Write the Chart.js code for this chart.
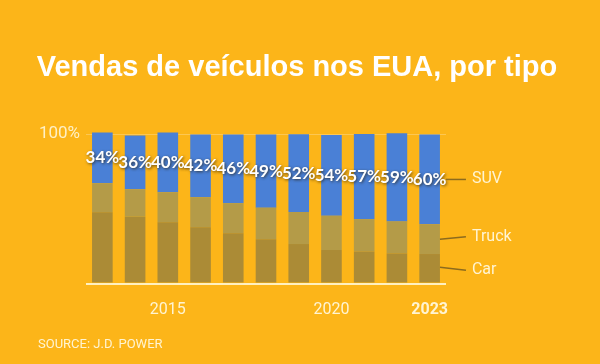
<!DOCTYPE html>
<html>
<head>
<meta charset="utf-8">
<script src="https://cdn.jsdelivr.net/npm/chart.js@4"></script>
<style>
  html, body { margin: 0; padding: 0; background: #FCB519; }
  #wrap { width: 600px; height: 364px; position: relative; }
</style>
</head>
<body>
<div id="wrap"><canvas id="c" width="600" height="364"></canvas></div>
<script>
const years = ['2013','2014','2015','2016','2017','2018','2019','2020','2021','2022','2023'];
const shownYears = ['2015','2020','2023'];
const suv   = [34, 36, 40, 42, 46, 49, 52, 54, 57, 59, 60];
const truck = [19.4, 18.3, 20.1, 20.1, 20.1, 21.1, 21.4, 22.9, 21.7, 21.4, 19.9];
const car   = [47.6, 44.7, 40.9, 37.6, 33.6, 29.6, 26.4, 22.4, 21.3, 20.1, 19.7];
const seriesNames = ['Car', 'Truck', 'SUV'];
const titleText = 'Vendas de veículos nos EUA, por tipo';
const sourceText = 'SOURCE: J.D. POWER';

const BG = '#FCB519';
const CREAM = '#FFF4D2';

const decor = {
  id: 'decor',
  beforeDraw(chart) {
    const ctx = chart.ctx;
    ctx.save();
    ctx.fillStyle = BG;
    ctx.fillRect(0, 0, chart.width, chart.height);
    ctx.restore();
  },
  afterDatasetsDraw(chart) {
    const ctx = chart.ctx;
    ctx.save();
    // title
    ctx.fillStyle = '#FFFFFF';
    ctx.font = 'bold 29px "Liberation Sans", Arial, sans-serif';
    ctx.textAlign = 'center';
    ctx.textBaseline = 'middle';
    ctx.fillText(titleText, 297, 68);
    // source
    ctx.font = '13px Roboto, sans-serif';
    ctx.textAlign = 'left';
    ctx.fillStyle = CREAM;
    ctx.fillText(sourceText, 38, 345);

    // SUV percentage labels
    const suvMeta = chart.getDatasetMeta(2);
    ctx.font = 'bold 17px Lato, sans-serif';
    ctx.textAlign = 'center';
    ctx.textBaseline = 'middle';
    suvMeta.data.forEach((bar, i) => {
      const y = (bar.y + bar.base) / 2;
      ctx.save();
      ctx.shadowColor = 'rgba(40,30,10,0.75)';
      ctx.shadowBlur = 3;
      ctx.shadowOffsetX = 1;
      ctx.shadowOffsetY = 1;
      ctx.fillStyle = '#FFFFFF';
      ctx.fillText(suv[i] + '%', bar.x, y);
      ctx.restore();
    });

    // series labels with leader lines, from the last bar
    const last = years.length - 1;
    ctx.font = '16px Roboto, sans-serif';
    ctx.textAlign = 'left';
    ctx.textBaseline = 'middle';
    [0, 1, 2].forEach(d => {
      const bar = chart.getDatasetMeta(d).data[last];
      const right = bar.x + bar.width / 2;
      const ySeg = (bar.y + bar.base) / 2;
      let x0 = right, y0 = ySeg, yL = ySeg;
      if (d === 2) { x0 = right + 6; }
      if (d === 1) { yL = ySeg - 2.5; }
      if (d === 0) { y0 = ySeg - 1; yL = ySeg + 2; }
      ctx.strokeStyle = '#8C6B1E';
      ctx.lineWidth = 1.5;
      ctx.beginPath();
      ctx.moveTo(x0, y0);
      ctx.lineTo(right + 26, yL);
      ctx.stroke();
      ctx.fillStyle = CREAM;
      ctx.fillText(seriesNames[d], right + 32, yL);
    });
    ctx.restore();
  }
};

new Chart(document.getElementById('c'), {
  type: 'bar',
  data: {
    labels: years,
    datasets: [
      { label: seriesNames[0], data: car,   backgroundColor: '#AB8B36', clip: false },
      { label: seriesNames[1], data: truck, backgroundColor: '#B49B48', clip: false },
      { label: seriesNames[2], data: suv,   backgroundColor: '#4A80D6', clip: false }
    ]
  },
  options: {
    responsive: false,
    animation: false,
    devicePixelRatio: 1,
    layout: { padding: { top: 134, right: 154, bottom: 40.5, left: 0 } },
    plugins: {
      legend: { display: false },
      title: { display: false },
      tooltip: { enabled: false }
    },
    datasets: { bar: { categoryPercentage: 1, barPercentage: 0.63 } },
    scales: {
      x: {
        stacked: true,
        grid: { display: false },
        border: { display: false },
        afterFit(scale) { scale.height = 40; },
        ticks: {
          autoSkip: false,
          maxRotation: 0,
          padding: 9,
          color: CREAM,
          font: (ctx) => ({ family: 'Roboto, sans-serif', size: 16,
                            weight: (ctx.tick && ctx.tick.label === '2023') ? 'bold' : 'normal' }),
          callback: function (v, i) {
            const l = years[i];
            return shownYears.includes(l) ? l : '';
          }
        }
      },
      y: {
        stacked: true,
        min: 0,
        max: 100,
        afterFit(scale) { scale.width = 86; },
        border: { display: false },
        grid: {
          drawTicks: false,
          color: (ctx) => ctx.tick && ctx.tick.value === 0 ? '#FFF0C0' : 'rgba(255,255,255,0.25)',
          lineWidth: (ctx) => ctx.tick && ctx.tick.value === 0 ? 2 : 1
        },
        ticks: {
          stepSize: 100,
          padding: 6,
          color: 'rgba(255,246,215,0.9)',
          font: { family: 'Roboto, sans-serif', size: 17 },
          callback: (v) => v === 100 ? '100%' : ''
        }
      }
    }
  },
  plugins: [decor]
});
</script>
</body>
</html>
